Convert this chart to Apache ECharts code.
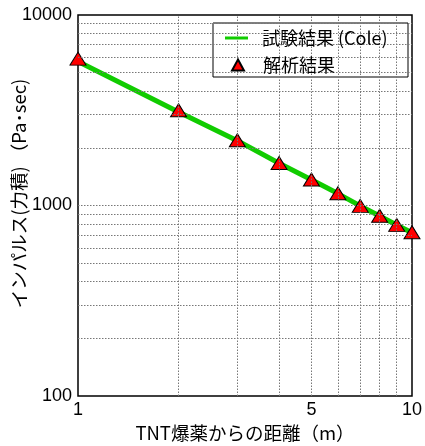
<!DOCTYPE html>
<html>
<head>
<meta charset="utf-8">
<script src="https://cdn.jsdelivr.net/npm/echarts@6/dist/echarts.min.js"></script>
<style>
  html, body { margin: 0; padding: 0; background: #fff; }
  #main { width: 425px; height: 446px; }
</style>
</head>
<body>
<div id="main"></div>
<script>
// 距離 (m)
var distances = [1, 2, 3, 4, 5, 6, 7, 8, 9, 10];
// 解析結果 (Pa・sec)
var analysisValues = [5900, 3160, 2200, 1670, 1370, 1160, 996, 883, 791, 724];
// 試験結果 (Cole) の曲線
var coleDistances = [1, 2, 3, 4, 5, 6, 7, 8, 9, 10, 10.5];
var coleValues = [5700, 3100, 2190, 1665, 1365, 1155, 995, 880, 790, 720, 690];
// 目盛りラベル
var xLabelValues = [1, 5, 10];
// 補助グリッド線
var xGridValues = [2, 3, 4, 5, 6, 7, 8, 9];
var yGridValues = [200, 300, 400, 500, 600, 700, 800, 900, 1000,
                   2000, 3000, 4000, 5000, 6000, 7000, 8000, 9000];

var fontNum = 'Liberation Sans, Arial, sans-serif';
var fontJp = '"Noto Sans CJK JP", sans-serif';

function pairs(xs, ys) {
  var res = [];
  for (var i = 0; i < xs.length; i++) res.push([xs[i], ys[i]]);
  return res;
}

var gridMarks = [];
xGridValues.forEach(function (v) { gridMarks.push({ xAxis: v }); });
yGridValues.forEach(function (v) { gridMarks.push({ yAxis: v }); });

var legendText = { fontFamily: fontJp, fontSize: 18, color: '#000' };

var chart = echarts.init(document.getElementById('main'));
chart.setOption({
  animation: false,
  backgroundColor: '#fff',
  grid: {
    left: 78, right: 13, top: 15, bottom: 50,
    outerBoundsMode: 'none',
    containLabel: false,
    show: true, borderColor: '#000', borderWidth: 1.5, backgroundColor: 'transparent'
  },
  // 凡例の枠
  graphic: [{
    type: 'rect',
    z: 5,
    shape: { x: 213, y: 23, width: 195, height: 54 },
    style: { fill: '#fff', stroke: '#000', lineWidth: 1 }
  }],
  legend: [
    {
      left: 225, top: 29, padding: 0, z: 6,
      itemWidth: 23, itemHeight: 3, itemGap: 0,
      icon: 'rect',
      textStyle: Object.assign({ padding: [0, 0, 0, 9] }, legendText),
      data: ['試験結果 (Cole)']
    },
    {
      left: 231, top: 56, padding: 0, z: 6,
      itemWidth: 12, itemHeight: 11, itemGap: 0,
      icon: 'triangle',
      textStyle: Object.assign({ padding: [0, 0, 0, 14] }, legendText),
      data: ['解析結果']
    }
  ],
  xAxis: {
    type: 'log', logBase: 10, min: 1, max: 10,
    name: 'TNT爆薬からの距離（m）',
    nameLocation: 'middle', nameGap: 27,
    nameTextStyle: { fontFamily: fontJp, fontSize: 18.5, color: '#000' },
    axisLine: { show: false },
    axisTick: { show: false },
    splitLine: { show: false },
    axisLabel: {
      customValues: xLabelValues,
      fontFamily: fontNum, fontSize: 18, color: '#000', margin: 5,
      formatter: function (v) { return String(v); }
    }
  },
  yAxis: {
    type: 'log', logBase: 10, min: 100, max: 10000,
    name: 'インパルス(力積) （Pa･sec)',
    nameLocation: 'middle', nameGap: 50,
    nameMoveOverlap: false,
    nameTextStyle: { fontFamily: fontJp, fontSize: 18.5, color: '#000', padding: [0, 0, 0, 24] },
    axisLine: { show: false },
    axisTick: { show: false },
    splitLine: { show: false },
    axisLabel: {
      fontFamily: fontNum, fontSize: 18, color: '#000', margin: 6,
      formatter: function (v) { return String(v); }
    }
  },
  series: [
    {
      name: 'grid',
      type: 'line',
      data: [],
      z: 1,
      markLine: {
        silent: true,
        symbol: 'none',
        label: { show: false },
        lineStyle: { color: '#777', width: 1, type: [1.5, 1.5] },
        data: gridMarks
      }
    },
    {
      name: '試験結果 (Cole)',
      type: 'line',
      data: pairs(coleDistances, coleValues),
      showSymbol: false,
      symbol: 'none',
      clip: false,
      z: 3,
      itemStyle: { color: '#11cc00' },
      lineStyle: { color: '#11cc00', width: 5 }
    },
    {
      name: '解析結果',
      type: 'scatter',
      data: pairs(distances, analysisValues),
      symbol: 'triangle',
      symbolSize: [16, 13],
      clip: false,
      z: 4,
      itemStyle: { color: '#ff0000', borderColor: '#000', borderWidth: 1, opacity: 1 }
    }
  ]
});
</script>
</body>
</html>
